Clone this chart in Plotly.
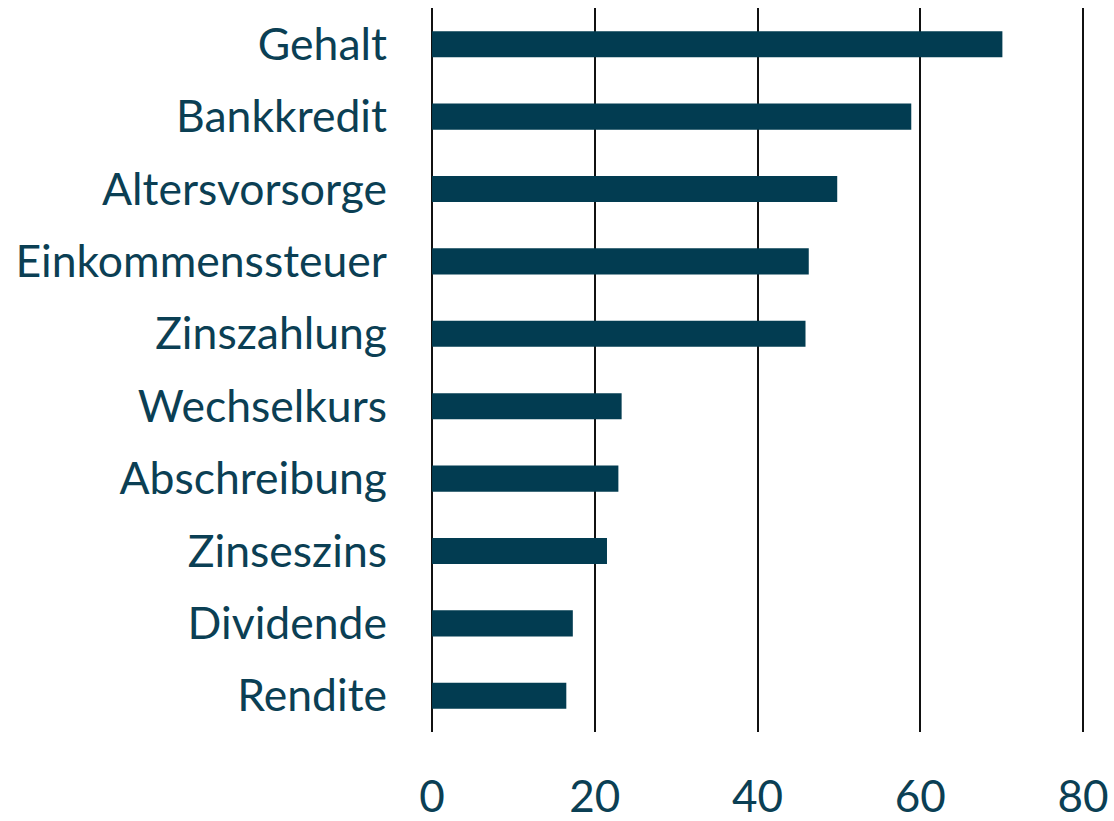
import plotly.graph_objects as go

categories = ["Gehalt", "Bankkredit", "Altersvorsorge", "Einkommenssteuer", "Zinszahlung",
              "Wechselkurs", "Abschreibung", "Zinseszins", "Dividende", "Rendite"]
values = [70.1, 58.9, 49.8, 46.3, 45.9, 23.3, 22.9, 21.5, 17.3, 16.5]
tick_vals = [0, 20, 40, 60, 80]

BAR = "#023c51"
TXT = "#0b3f54"

fig = go.Figure(go.Bar(
    x=values, y=categories, orientation="h",
    marker=dict(color=BAR, line=dict(width=0)),
    width=0.36,
))
fig.update_layout(
    width=1114, height=821,
    margin=dict(l=428, r=27, t=8, b=89),
    paper_bgcolor="white", plot_bgcolor="white",
    showlegend=False,
    font=dict(family="Lato", color=TXT),
)
fig.update_xaxes(
    range=[-0.5, 80.5], tickvals=tick_vals, showgrid=True, gridcolor="#111111", gridwidth=1.8,
    zeroline=False, showline=False, ticks="", automargin=False,
    tickfont=dict(size=44, color=TXT), ticklabelstandoff=35,
)
fig.update_yaxes(
    categoryorder="array", categoryarray=categories[::-1],
    showgrid=False, zeroline=False, showline=False, ticks="", automargin=False,
    tickfont=dict(size=44.5, color=TXT), ticklabelstandoff=40,
)
fig.write_html("out.html", config={"displayModeBar": False},
               post_script="document.body.style.margin='0';document.body.style.overflow='hidden';")
